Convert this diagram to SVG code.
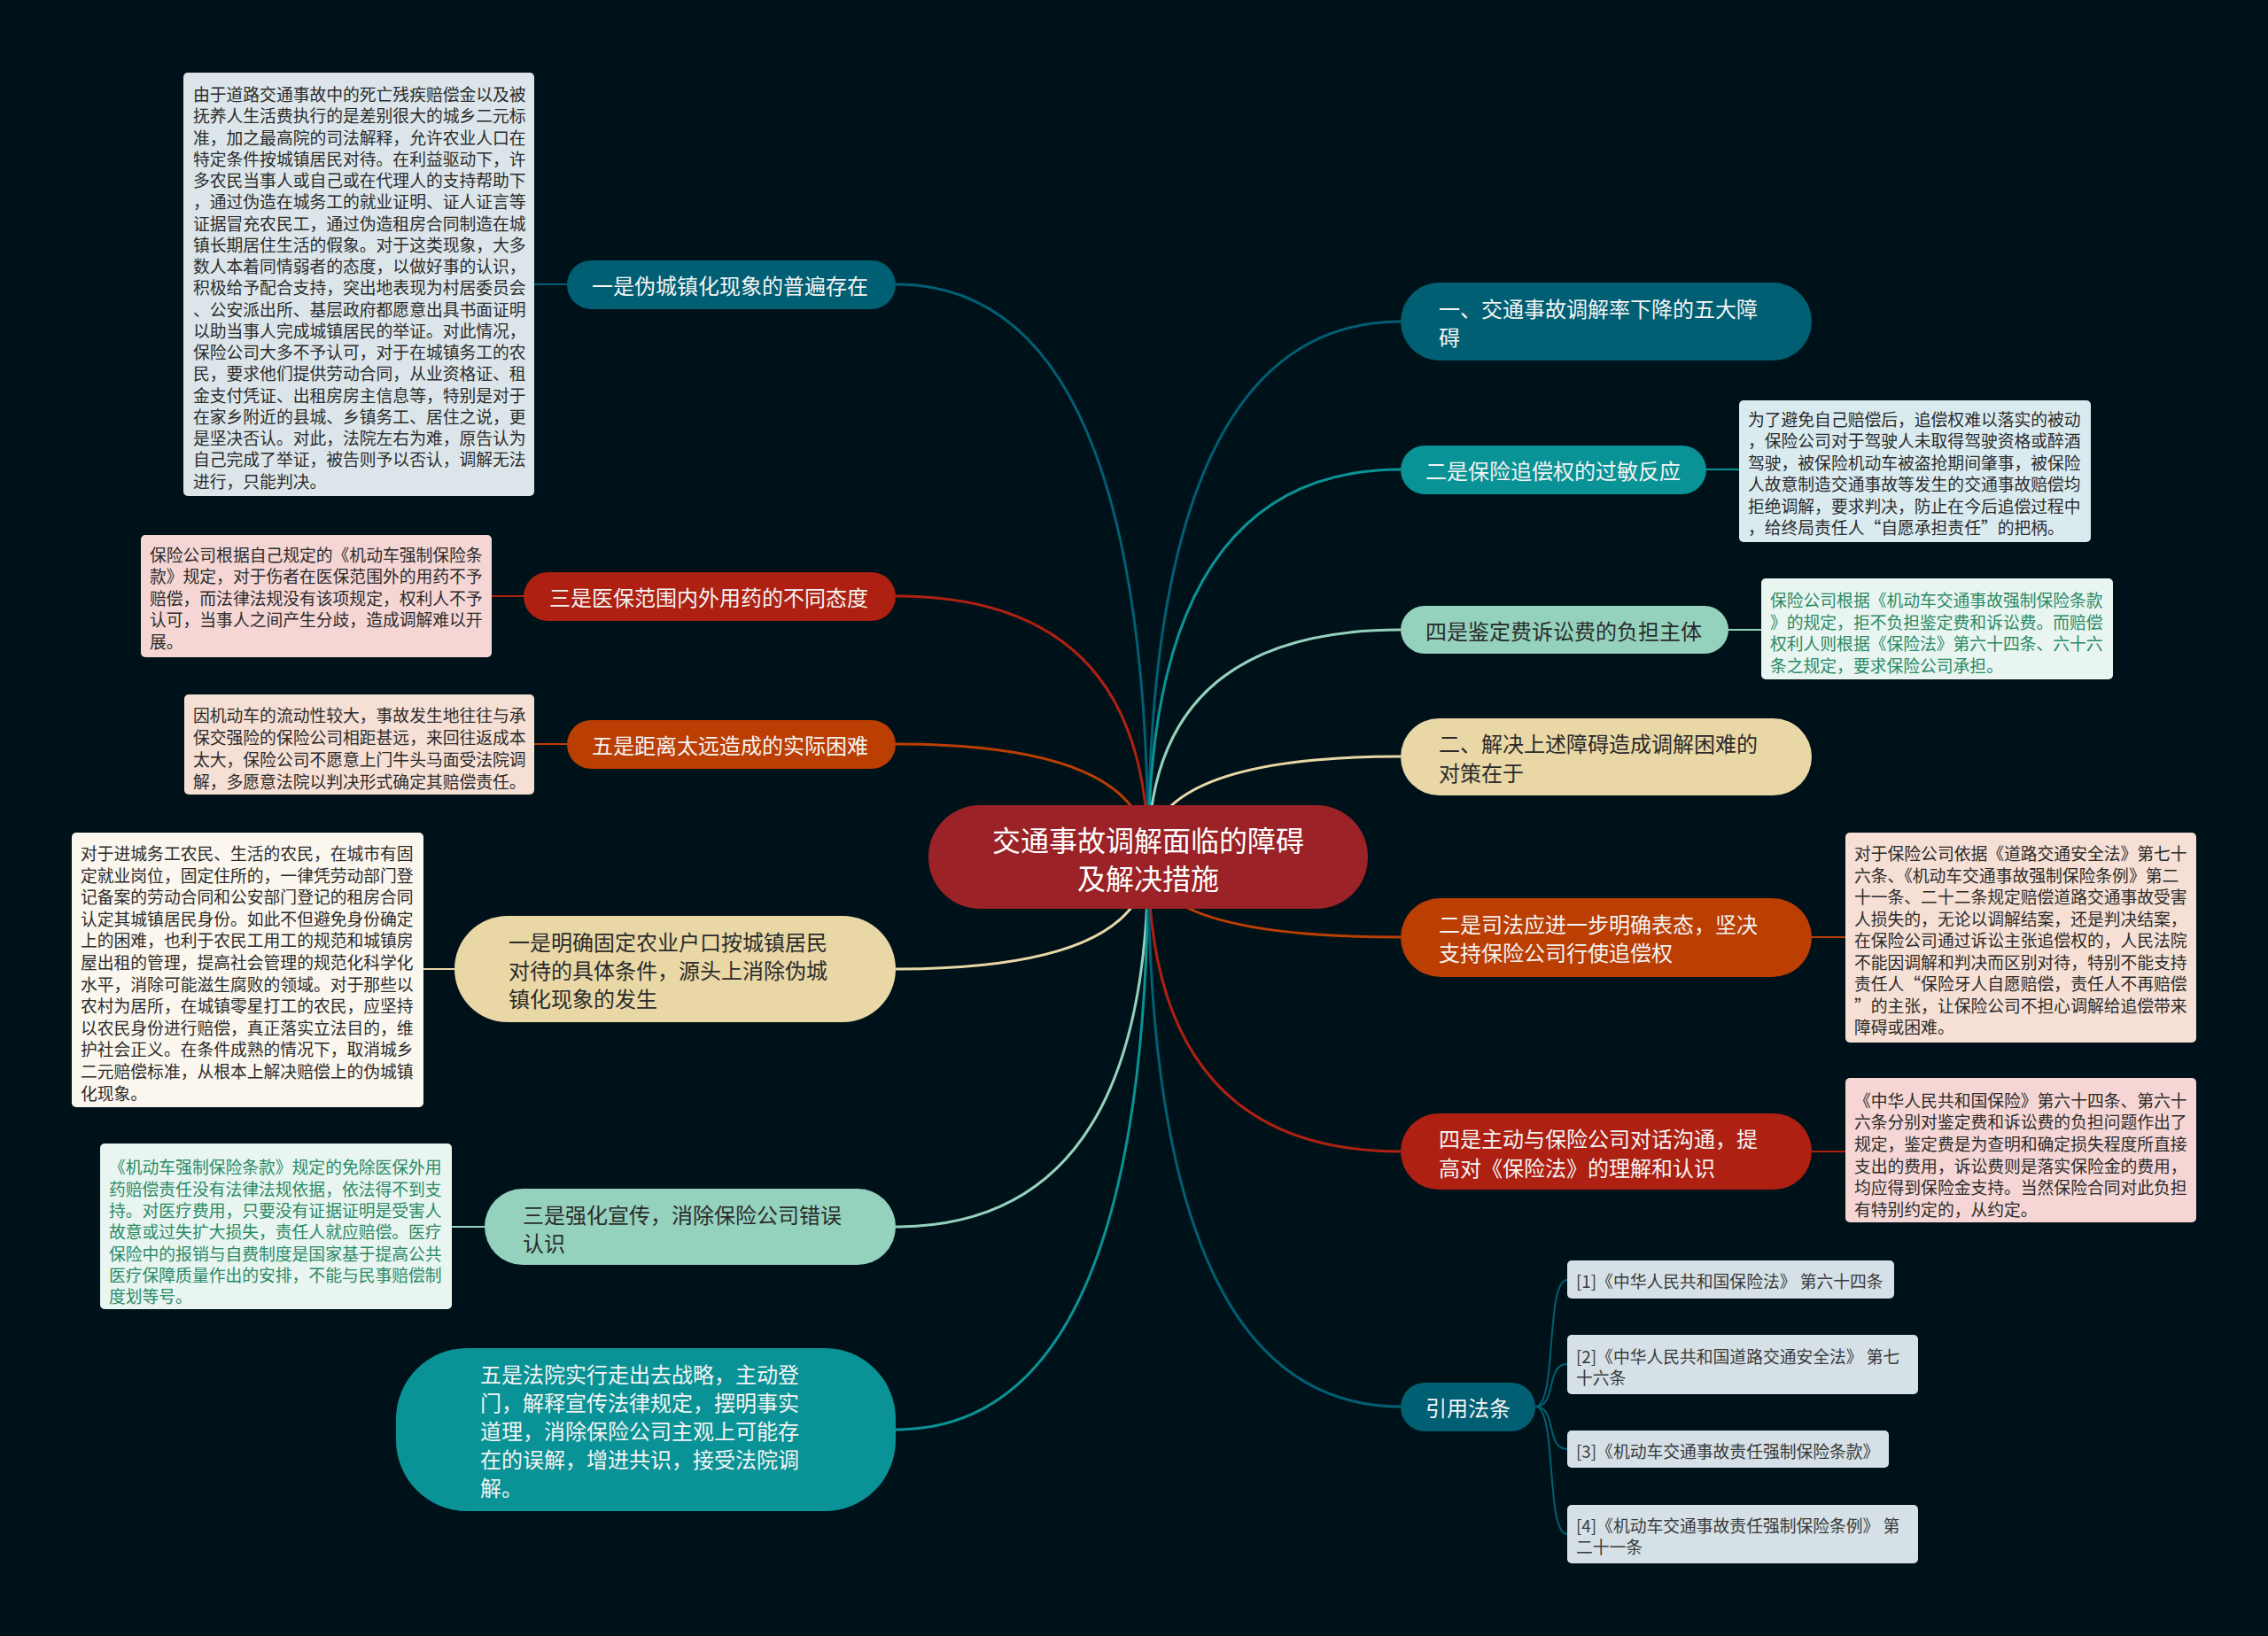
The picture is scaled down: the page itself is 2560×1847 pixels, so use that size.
<svg xmlns="http://www.w3.org/2000/svg" width="2560" height="1847" viewBox="0 0 2560 1847">
<style>
text{font-family:"Noto Sans CJK SC","Noto Sans",sans-serif;dominant-baseline:central}
.main{font-size:24px}
.root{font-size:32px;fill:#ffffff;text-anchor:middle}
.lt{fill:#f4f4f4}
.dk{fill:#2b2b2b}
.leaf{font-size:18.8px;fill:#2b2b2b}
.leafg{font-size:18.8px;fill:#2a8a66}
.cite{font-size:18.8px;fill:#3a3a3a}
.con{fill:none;stroke-width:3}
.lcon{fill:none;stroke-width:2}
</style>
<rect width="2560" height="1847" fill="#001219"/>
<g id="connectors">
<path class="con" stroke="#005f73" d="M1296,968 Q1296,321 1011,321"/>
<path class="con" stroke="#ae2012" d="M1296,968 Q1296,673 1011,673"/>
<path class="con" stroke="#bb3e03" d="M1296,968 Q1296,840 1011,840"/>
<path class="con" stroke="#e9d8a6" d="M1296,968 Q1296,1094 1011,1094"/>
<path class="con" stroke="#94d2bd" d="M1296,968 Q1296,1385 1011,1385"/>
<path class="con" stroke="#0a9396" d="M1296,968 Q1296,1614 1011,1614"/>
<path class="con" stroke="#005f73" d="M1296,968 Q1296,363 1581,363"/>
<path class="con" stroke="#0a9396" d="M1296,968 Q1296,530 1581,530"/>
<path class="con" stroke="#94d2bd" d="M1296,968 Q1296,711 1581,711"/>
<path class="con" stroke="#e9d8a6" d="M1296,968 Q1296,854 1581,854"/>
<path class="con" stroke="#bb3e03" d="M1296,968 Q1296,1058 1581,1058"/>
<path class="con" stroke="#ae2012" d="M1296,968 Q1296,1300 1581,1300"/>
<path class="con" stroke="#005f73" d="M1296,968 Q1296,1588 1581,1588"/>
<path class="lcon" stroke="#005f73" d="M640,321 H603"/>
<path class="lcon" stroke="#ae2012" d="M591,673 H555"/>
<path class="lcon" stroke="#bb3e03" d="M640,840 H603"/>
<path class="lcon" stroke="#e9d8a6" d="M513,1094 H478"/>
<path class="lcon" stroke="#94d2bd" d="M547,1385 H510"/>
<path class="lcon" stroke="#0a9396" d="M1926,530 H1963"/>
<path class="lcon" stroke="#94d2bd" d="M1951,711 H1988"/>
<path class="lcon" stroke="#bb3e03" d="M2045,1058 H2083"/>
<path class="lcon" stroke="#ae2012" d="M2045,1300 H2083"/>
<path class="lcon" stroke="#005f73" d="M1733,1588 C1758,1588 1744,1445 1769,1445"/>
<path class="lcon" stroke="#005f73" d="M1733,1588 C1758,1588 1744,1540 1769,1540"/>
<path class="lcon" stroke="#005f73" d="M1733,1588 C1758,1588 1744,1636 1769,1636"/>
<path class="lcon" stroke="#005f73" d="M1733,1588 C1758,1588 1744,1732 1769,1732"/>
</g>
<g id="root">
<rect x="1048" y="909" width="496" height="117" rx="58" fill="#9b2226"/>
<text class="root"><tspan x="1296" y="947">交通事故调解面临的障碍</tspan><tspan x="1296" y="990">及解决措施</tspan></text>
</g>
<g id="n1">
<rect x="640" y="294" width="371" height="55" rx="27.5" fill="#005f73"/>
<text class="main lt" x="668" y="321">一是伪城镇化现象的普遍存在</text>
</g>
<g id="n1-leaf">
<rect x="207" y="82" width="396" height="478" rx="5" fill="#dce6ea"/>
<text class="leaf"><tspan x="218" y="105">由于道路交通事故中的死亡残疾赔偿金以及被</tspan><tspan x="218" y="129.3">抚养人生活费执行的是差别很大的城乡二元标</tspan><tspan x="218" y="153.5">准，加之最高院的司法解释，允许农业人口在</tspan><tspan x="218" y="177.8">特定条件按城镇居民对待。在利益驱动下，许</tspan><tspan x="218" y="202">多农民当事人或自己或在代理人的支持帮助下</tspan><tspan x="218" y="226.3">，通过伪造在城务工的就业证明、证人证言等</tspan><tspan x="218" y="250.6">证据冒充农民工，通过伪造租房合同制造在城</tspan><tspan x="218" y="274.8">镇长期居住生活的假象。对于这类现象，大多</tspan><tspan x="218" y="299.1">数人本着同情弱者的态度，以做好事的认识，</tspan><tspan x="218" y="323.3">积极给予配合支持，突出地表现为村居委员会</tspan><tspan x="218" y="347.6">、公安派出所、基层政府都愿意出具书面证明</tspan><tspan x="218" y="371.9">以助当事人完成城镇居民的举证。对此情况，</tspan><tspan x="218" y="396.1">保险公司大多不予认可，对于在城镇务工的农</tspan><tspan x="218" y="420.4">民，要求他们提供劳动合同，从业资格证、租</tspan><tspan x="218" y="444.6">金支付凭证、出租房房主信息等，特别是对于</tspan><tspan x="218" y="468.9">在家乡附近的县城、乡镇务工、居住之说，更</tspan><tspan x="218" y="493.2">是坚决否认。对此，法院左右为难，原告认为</tspan><tspan x="218" y="517.4">自己完成了举证，被告则予以否认，调解无法</tspan><tspan x="218" y="541.7">进行，只能判决。</tspan></text>
</g>
<g id="n2">
<rect x="591" y="646" width="420" height="55" rx="27.5" fill="#ae2012"/>
<text class="main lt" x="620" y="673">三是医保范围内外用药的不同态度</text>
</g>
<g id="n2-leaf">
<rect x="159" y="604" width="396" height="138" rx="5" fill="#f5d6d4"/>
<text class="leaf"><tspan x="169" y="625">保险公司根据自己规定的《机动车强制保险条</tspan><tspan x="169" y="649.4">款》规定，对于伤者在医保范围外的用药不予</tspan><tspan x="169" y="673.8">赔偿，而法律法规没有该项规定，权利人不予</tspan><tspan x="169" y="698.2">认可，当事人之间产生分歧，造成调解难以开</tspan><tspan x="169" y="722.6">展。</tspan></text>
</g>
<g id="n3">
<rect x="640" y="813" width="371" height="55" rx="27.5" fill="#bb3e03"/>
<text class="main lt" x="668" y="840">五是距离太远造成的实际困难</text>
</g>
<g id="n3-leaf">
<rect x="208" y="784" width="395" height="113" rx="5" fill="#f6dfd4"/>
<text class="leaf"><tspan x="218" y="806">因机动车的流动性较大，事故发生地往往与承</tspan><tspan x="218" y="831">保交强险的保险公司相距甚远，来回往返成本</tspan><tspan x="218" y="856">太大，保险公司不愿意上门牛头马面受法院调</tspan><tspan x="218" y="881">解，多愿意法院以判决形式确定其赔偿责任。</tspan></text>
</g>
<g id="n4">
<rect x="513" y="1034" width="498" height="120" rx="60" fill="#e9d8a6"/>
<text class="main dk"><tspan x="574" y="1062">一是明确固定农业户口按城镇居民</tspan><tspan x="574" y="1094">对待的具体条件，源头上消除伪城</tspan><tspan x="574" y="1126">镇化现象的发生</tspan></text>
</g>
<g id="n4-leaf">
<rect x="81" y="940" width="397" height="310" rx="5" fill="#fbf7ee"/>
<text class="leaf"><tspan x="91" y="962">对于进城务工农民、生活的农民，在城市有固</tspan><tspan x="91" y="986.6">定就业岗位，固定住所的，一律凭劳动部门登</tspan><tspan x="91" y="1011.2">记备案的劳动合同和公安部门登记的租房合同</tspan><tspan x="91" y="1035.8">认定其城镇居民身份。如此不但避免身份确定</tspan><tspan x="91" y="1060.4">上的困难，也利于农民工用工的规范和城镇房</tspan><tspan x="91" y="1085">屋出租的管理，提高社会管理的规范化科学化</tspan><tspan x="91" y="1109.6">水平，消除可能滋生腐败的领域。对于那些以</tspan><tspan x="91" y="1134.2">农村为居所，在城镇零星打工的农民，应坚持</tspan><tspan x="91" y="1158.8">以农民身份进行赔偿，真正落实立法目的，维</tspan><tspan x="91" y="1183.4">护社会正义。在条件成熟的情况下，取消城乡</tspan><tspan x="91" y="1208">二元赔偿标准，从根本上解决赔偿上的伪城镇</tspan><tspan x="91" y="1232.6">化现象。</tspan></text>
</g>
<g id="n5">
<rect x="547" y="1342" width="464" height="86" rx="43" fill="#94d2bd"/>
<text class="main dk"><tspan x="590" y="1370">三是强化宣传，消除保险公司错误</tspan><tspan x="590" y="1402">认识</tspan></text>
</g>
<g id="n5-leaf">
<rect x="113" y="1291" width="397" height="187" rx="5" fill="#e9f5f0"/>
<text class="leafg"><tspan x="123" y="1316.3">《机动车强制保险条款》规定的免除医保外用</tspan><tspan x="123" y="1340.6">药赔偿责任没有法律法规依据，依法得不到支</tspan><tspan x="123" y="1364.9">持。对医疗费用，只要没有证据证明是受害人</tspan><tspan x="123" y="1389.2">故意或过失扩大损失，责任人就应赔偿。医疗</tspan><tspan x="123" y="1413.5">保险中的报销与自费制度是国家基于提高公共</tspan><tspan x="123" y="1437.8">医疗保障质量作出的安排，不能与民事赔偿制</tspan><tspan x="123" y="1462.1">度划等号。</tspan></text>
</g>
<g id="n6">
<rect x="447" y="1522" width="564" height="184" rx="80" fill="#0a9396"/>
<text class="main lt"><tspan x="542" y="1550">五是法院实行走出去战略，主动登</tspan><tspan x="542" y="1582">门，解释宣传法律规定，摆明事实</tspan><tspan x="542" y="1614">道理，消除保险公司主观上可能存</tspan><tspan x="542" y="1646">在的误解，增进共识，接受法院调</tspan><tspan x="542" y="1678">解。</tspan></text>
</g>
<g id="r1">
<rect x="1581" y="319" width="464" height="88" rx="44" fill="#005f73"/>
<text class="main lt"><tspan x="1624" y="347">一、交通事故调解率下降的五大障</tspan><tspan x="1624" y="379">碍</tspan></text>
</g>
<g id="r2">
<rect x="1581" y="503" width="345" height="55" rx="27.5" fill="#0a9396"/>
<text class="main lt" x="1609" y="530">二是保险追偿权的过敏反应</text>
</g>
<g id="r2-leaf">
<rect x="1963" y="452" width="397" height="160" rx="5" fill="#daebf0"/>
<text class="leaf"><tspan x="1973" y="471.7">为了避免自己赔偿后，追偿权难以落实的被动</tspan><tspan x="1973" y="496.2">，保险公司对于驾驶人未取得驾驶资格或醉酒</tspan><tspan x="1973" y="520.6">驾驶，被保险机动车被盗抢期间肇事，被保险</tspan><tspan x="1973" y="545.1">人故意制造交通事故等发生的交通事故赔偿均</tspan><tspan x="1973" y="569.5">拒绝调解，要求判决，防止在今后追偿过程中</tspan><tspan x="1973" y="594">，给终局责任人“自愿承担责任”的把柄。</tspan></text>
</g>
<g id="r3">
<rect x="1581" y="684" width="370" height="54" rx="27" fill="#94d2bd"/>
<text class="main dk" x="1609" y="711">四是鉴定费诉讼费的负担主体</text>
</g>
<g id="r3-leaf">
<rect x="1988" y="653" width="397" height="114" rx="5" fill="#e9f5f0"/>
<text class="leafg"><tspan x="1998" y="676">保险公司根据《机动车交通事故强制保险条款</tspan><tspan x="1998" y="700.6">》的规定，拒不负担鉴定费和诉讼费。而赔偿</tspan><tspan x="1998" y="725.2">权利人则根据《保险法》第六十四条、六十六</tspan><tspan x="1998" y="749.8">条之规定，要求保险公司承担。</tspan></text>
</g>
<g id="r4">
<rect x="1581" y="811" width="464" height="87" rx="43.5" fill="#e9d8a6"/>
<text class="main dk"><tspan x="1624" y="838">二、解决上述障碍造成调解困难的</tspan><tspan x="1624" y="871">对策在于</tspan></text>
</g>
<g id="r5">
<rect x="1581" y="1014" width="464" height="89" rx="44.5" fill="#bb3e03"/>
<text class="main lt"><tspan x="1624" y="1042">二是司法应进一步明确表态，坚决</tspan><tspan x="1624" y="1074">支持保险公司行使追偿权</tspan></text>
</g>
<g id="r5-leaf">
<rect x="2083" y="940" width="396" height="237" rx="5" fill="#f6dfd4"/>
<text class="leaf"><tspan x="2093" y="962">对于保险公司依据《道路交通安全法》第七十</tspan><tspan x="2093" y="986.5">六条、《机动车交通事故强制保险条例》第二</tspan><tspan x="2093" y="1011">十一条、二十二条规定赔偿道路交通事故受害</tspan><tspan x="2093" y="1035.5">人损失的，无论以调解结案，还是判决结案，</tspan><tspan x="2093" y="1060">在保险公司通过诉讼主张追偿权的，人民法院</tspan><tspan x="2093" y="1084.5">不能因调解和判决而区别对待，特别不能支持</tspan><tspan x="2093" y="1109">责任人“保险牙人自愿赔偿，责任人不再赔偿</tspan><tspan x="2093" y="1133.5">”的主张，让保险公司不担心调解给追偿带来</tspan><tspan x="2093" y="1158">障碍或困难。</tspan></text>
</g>
<g id="r6">
<rect x="1581" y="1257" width="464" height="86" rx="43" fill="#ae2012"/>
<text class="main lt"><tspan x="1624" y="1284">四是主动与保险公司对话沟通，提</tspan><tspan x="1624" y="1317">高对《保险法》的理解和认识</tspan></text>
</g>
<g id="r6-leaf">
<rect x="2083" y="1217" width="396" height="163" rx="5" fill="#f5d6d4"/>
<text class="leaf"><tspan x="2093" y="1240.7">《中华人民共和国保险》第六十四条、第六十</tspan><tspan x="2093" y="1265.4">六条分别对鉴定费和诉讼费的负担问题作出了</tspan><tspan x="2093" y="1290">规定，鉴定费是为查明和确定损失程度所直接</tspan><tspan x="2093" y="1314.7">支出的费用，诉讼费则是落实保险金的费用，</tspan><tspan x="2093" y="1339.3">均应得到保险金支持。当然保险合同对此负担</tspan><tspan x="2093" y="1364">有特别约定的，从约定。</tspan></text>
</g>
<g id="r7">
<rect x="1581" y="1561" width="152" height="55" rx="27.5" fill="#005f73"/>
<text class="main lt" x="1609" y="1588">引用法条</text>
</g>
<g id="cite1">
<rect x="1769" y="1423" width="369" height="43" rx="5" fill="#d5e1e6"/>
<text class="cite" x="1779" y="1445">[1]《中华人民共和国保险法》 第六十四条</text>
</g>
<g id="cite2">
<rect x="1769" y="1507" width="396" height="67" rx="5" fill="#d5e1e6"/>
<text class="cite"><tspan x="1779" y="1530">[2]《中华人民共和国道路交通安全法》 第七</tspan><tspan x="1779" y="1554">十六条</tspan></text>
</g>
<g id="cite3">
<rect x="1769" y="1615" width="363" height="42" rx="5" fill="#d5e1e6"/>
<text class="cite" x="1779" y="1637">[3]《机动车交通事故责任强制保险条款》</text>
</g>
<g id="cite4">
<rect x="1769" y="1699" width="396" height="66" rx="5" fill="#d5e1e6"/>
<text class="cite"><tspan x="1779" y="1721">[4]《机动车交通事故责任强制保险条例》 第</tspan><tspan x="1779" y="1745">二十一条</tspan></text>
</g>
</svg>
